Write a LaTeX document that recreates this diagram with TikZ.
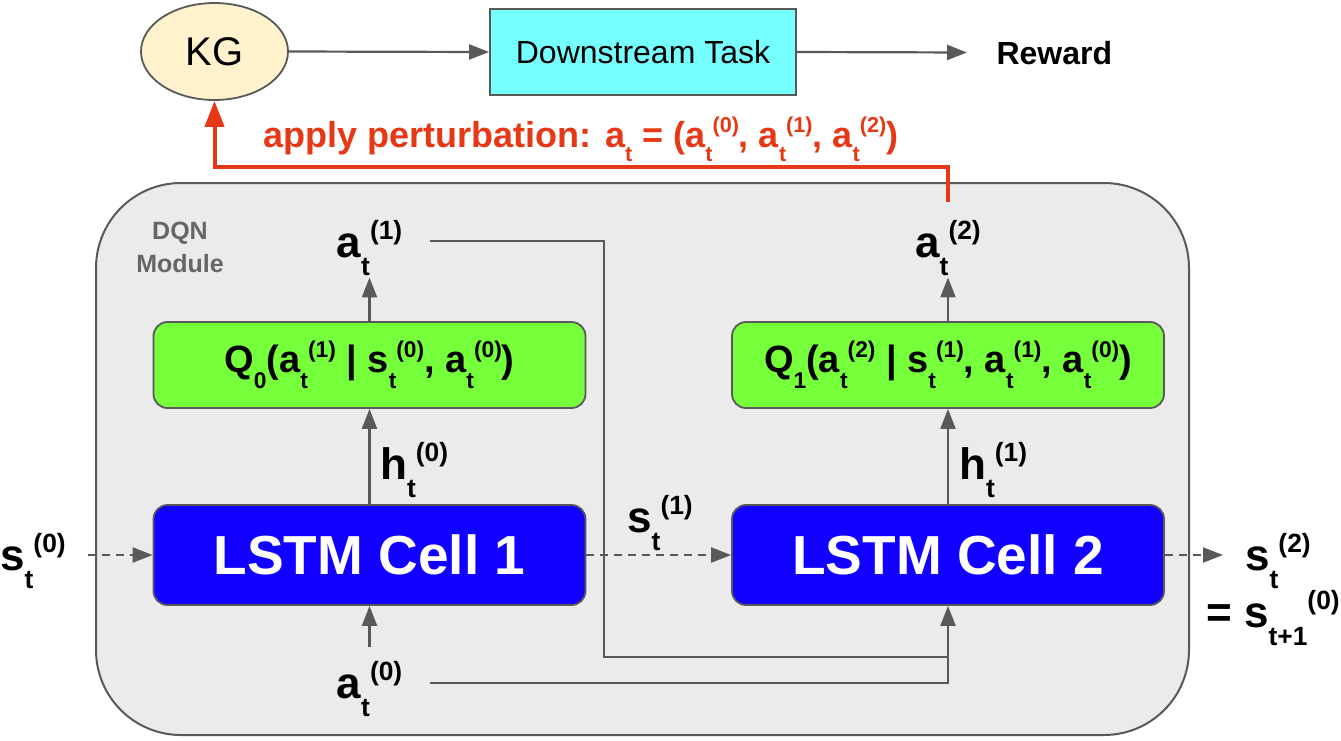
\documentclass[tikz,border=0pt]{standalone}
\usepackage{fontspec}
\setmainfont{Liberation Sans}
\usetikzlibrary{shapes.geometric,arrows.meta,positioning}

\definecolor{linegray}{RGB}{89,89,89}
\definecolor{modgray}{RGB}{235,235,235}
\definecolor{kgyellow}{RGB}{255,242,204}
\definecolor{taskcyan}{RGB}{118,255,255}
\definecolor{qgreen}{RGB}{118,255,59}
\definecolor{cellblue}{RGB}{17,0,255}
\definecolor{perturbred}{RGB}{230,56,21}
\definecolor{labgray}{RGB}{102,102,102}

\makeatletter
\newcommand{\scrfont}[1]{{\@tempdima=\f@size pt\@tempdima=0.6\@tempdima\fontsize{\the\@tempdima}{\the\@tempdima}\selectfont#1}}
\makeatother
% base, lowered index, raised index
\newcommand{\stag}[3]{#1\raisebox{-0.41em}{\scrfont{#2}}\raisebox{0.40em}{\scrfont{#3}}}
\newcommand{\stagsub}[2]{#1\raisebox{-0.41em}{\scrfont{#2}}}

\begin{document}
\begin{tikzpicture}[x=1pt,y=-1pt]

\tikzset{lab/.style={inner sep=2pt,font=\fontsize{44}{44}\selectfont\bfseries},}
\tikzset{conn/.style={-{Triangle[length=20pt,width=15pt]}, line width=2.2pt, draw=linegray},}
\tikzset{dconn/.style={conn, dash pattern=on 8pt off 6pt},}
\tikzset{wire/.style={line width=2.2pt, draw=linegray},}
\tikzset{qbox/.style={draw=linegray, line width=1.8pt, fill=qgreen, rounded corners=14pt, minimum width=432pt, minimum height=86pt, font=\fontsize{38}{38}\selectfont\bfseries},}
\tikzset{cell/.style={qbox, fill=cellblue, minimum height=100pt, text=white, font=\fontsize{55}{55}\selectfont\bfseries},}
\tikzset{perturb/.style={-{Triangle[length=26pt,width=19pt]}, line width=4pt, draw=perturbred},}

\useasboundingbox (0,0) rectangle (1341,740);

\node[draw=linegray, line width=2pt, fill=modgray, rounded corners=85pt, minimum width=1093pt, minimum height=552pt] (dqn) at (642.5,459) {};
\node[font=\fontsize{25}{33}\selectfont\bfseries, text=labgray, align=center] (dqnlabel) at (180,247) {DQN\\Module};

\node[ellipse, draw=linegray, line width=1.8pt, fill=kgyellow, minimum width=147pt, minimum height=97pt, font=\fontsize{40}{40}\selectfont] (kg) at (214.5,51.5) {KG};
\node[draw=linegray, line width=1.8pt, fill=taskcyan, minimum width=306pt, minimum height=86pt, font=\fontsize{32}{32}\selectfont] (task) at (643,52) {Downstream Task};
\node[font=\fontsize{32}{32}\selectfont\bfseries, anchor=base west] (reward) at (993,64) {Reward};

\node[qbox] (q0) at (369.5,365) {\stagsub{Q}{0}(\stag{a}{t}{(1)} | \stag{s}{t}{(0)}, \stag{a}{t}{(0)})};
\node[qbox] (q1) at (948,365) {\stagsub{Q}{1}(\stag{a}{t}{(2)} | \stag{s}{t}{(1)}, \stag{a}{t}{(1)}, \stag{a}{t}{(0)})};
\node[cell] (lstm1) at (369.5,555) {LSTM Cell 1};
\node[cell] (lstm2) at (948,555) {LSTM Cell 2};

\node[lab, anchor=base] (a1) at (369.5,257) {\stag{a}{t}{(1)}};
\node[lab, anchor=base] (a2) at (948,257) {\stag{a}{t}{(2)}};
\node[lab, anchor=base west] (h0) at (378,479) {\stag{h}{t}{(0)}};
\node[lab, anchor=base west] (h1) at (957,479) {\stag{h}{t}{(1)}};
\node[lab, anchor=base] (s0) at (33,570) {\stag{s}{t}{(0)}};
\node[lab, anchor=base] (s1) at (660,532) {\stag{s}{t}{(1)}};
\node[lab, anchor=base west] (s2) at (1243,570) {\stag{s}{t}{(2)}};
\node[lab, anchor=base west] (snext) at (1204,627) {= \stag{s}{t+1}{(0)}};
\node[lab, anchor=base] (a0) at (369.5,698) {\stag{a}{t}{(0)}};

\node[font=\fontsize{36}{36}\selectfont\bfseries, text=perturbred, anchor=base] (plabel) at (581,147) {apply perturbation: \stagsub{a}{t} = (\stag{a}{t}{(0)}, \stag{a}{t}{(1)}, \stag{a}{t}{(2)})};

\coordinate (bend) at (604,657);

\draw[conn] (kg.east) -- (task.west);
\draw[conn, shorten >=26pt] (task.east) -- (reward.west);

\draw[conn] (q0.north) -- (a1.south);
\draw[conn] (q1.north) -- (a2.south);
\draw[conn] (lstm1.north) -- (q0.south);
\draw[conn] (lstm2.north) -- (q1.south);
\draw[conn] ([yshift=12pt]a0.north) -- (lstm1.south);

\draw[dconn, shorten <=20pt] (s0.east |- lstm1.west) -- (lstm1.west);
\draw[dconn] (lstm1.east) -- (lstm2.west);
\draw[dconn, shorten >=20pt] (lstm2.east) -- (s2.west |- lstm2.east);

\draw[wire] ([xshift=26pt,yshift=16pt]a1.base east) -| (bend) -- (bend -| lstm2.south);
\draw[conn] ([xshift=26pt,yshift=15pt]a0.base east) -| (lstm2.south);

\draw[perturb] ([yshift=16pt]a2.north) -- ++(0,-35) -| (kg.south);

\end{tikzpicture}
\end{document}
